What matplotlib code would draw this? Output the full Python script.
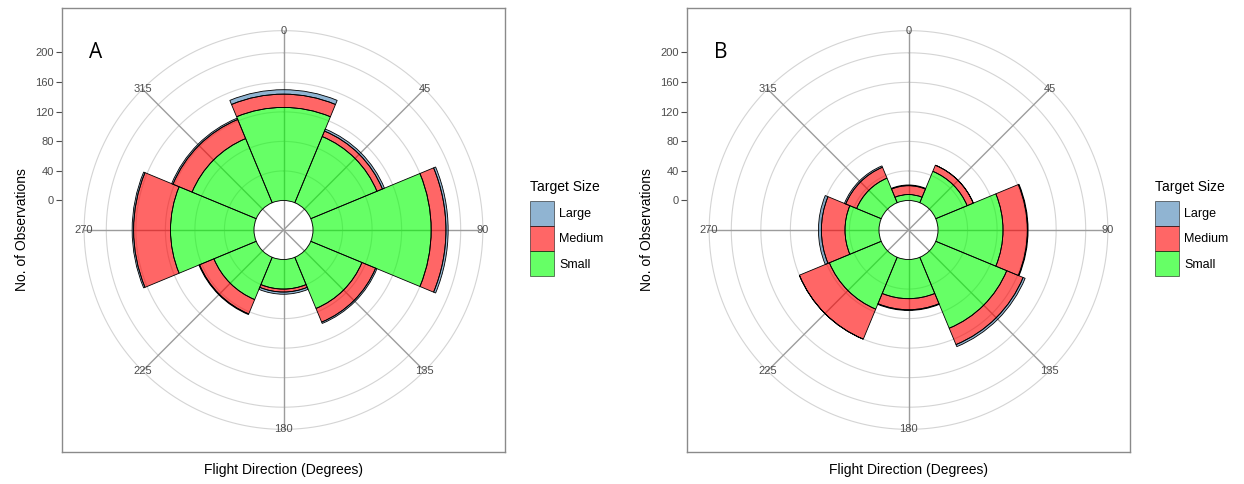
import matplotlib
matplotlib.use("Agg")
import matplotlib.pyplot as plt
import numpy as np
from matplotlib.patches import Patch

W, H = 1244, 484

# ---------------- data ----------------
directions = [0, 45, 90, 135, 180, 225, 270, 315]
direction_labels = ["0", "45", "90", "135", "180", "225", "270", "315"]
size_classes = ["Large", "Medium", "Small"]

a_small = [126, 97, 160, 75, 40, 62, 113, 94]
a_medium = [18, 8, 20, 20, 4, 21, 50, 28]
a_large = [6, 3, 3, 2, 3, 1, 2, 2]

b_small = [8, 46, 88, 104, 53, 76, 46, 36]
b_medium = [12, 9, 33, 24, 15, 44, 32, 16]
b_large = [1, 0, 1, 3, 1, 0, 4, 2]

y_ticks = [0, 40, 80, 120, 160, 200]
r_low, r_high = -40, 200
panel_letters = ["A", "B"]

colors = {"Small": "#00ff00", "Medium": "#ff0000", "Large": "#4682b4"}
ALPHA = 0.6
FONT = "Liberation Sans"

# derived polar extents (ggplot-like: data range -> 0..0.4, outer ring 0.45, box 0.5)
span = r_high - r_low
r_outer = r_low + span * 0.45 / 0.4
r_box = r_low + span * 0.5 / 0.4

fig = plt.figure(figsize=(W / 100, H / 100), dpi=100)


def rect(x0, y0, w, h):
    return [x0 / W, 1 - (y0 + h) / H, w / W, h / H]


def draw_panel(x0, small, medium, large, letter):
    bw, bh = 443, 444
    y0 = 8
    box = fig.add_axes(rect(x0, y0, bw, bh))
    box.set_xlim(0, 1)
    box.set_ylim(r_low - (r_box - r_low), r_box)
    box.set_xticks([])
    box.set_yticks(y_ticks)
    box.set_yticklabels([str(t) for t in y_ticks], fontsize=8, color="#4d4d4d",
                        family=FONT)
    box.tick_params(axis="y", length=4, width=0.8, color="#4d4d4d", pad=2)
    for s in box.spines.values():
        s.set_color("#8a8a8a")
        s.set_linewidth(1.0)
    box.set_ylabel("No. of Observations", fontsize=10, family=FONT, labelpad=4)
    box.set_xlabel("Flight Direction (Degrees)", fontsize=10, family=FONT, labelpad=8)
    box.text(0.076, 0.9, letter, transform=box.transAxes, fontsize=15,
             family="Open Sans", ha="center", va="center")

    ax = fig.add_axes(rect(x0, y0, bw, bh), projection="polar")
    ax.set_theta_zero_location("N")
    ax.set_theta_direction(-1)
    ax.set_ylim(r_low, r_box)
    ax.patch.set_visible(False)
    ax.spines["polar"].set_visible(False)
    ax.grid(False)
    ax.set_xticks([])
    ax.set_yticks([])

    tfine = np.linspace(0, 2 * np.pi, 400)
    for r in y_ticks + [r_outer]:
        ax.plot(tfine, np.full_like(tfine, r), color="#d4d4d4", lw=0.8, zorder=1)
    for d in directions:
        t = np.deg2rad(d)
        ax.plot([t, t], [r_low, r_outer], color="#9c9c9c", lw=1.0, zorder=1)

    theta = np.deg2rad(directions)
    width = np.deg2rad(45)
    small = np.array(small, float)
    medium = np.array(medium, float)
    large = np.array(large, float)
    kw = dict(width=width, edgecolor="none", zorder=3, align="center")
    ax.bar(theta, small, bottom=0, color=colors["Small"], alpha=ALPHA, **kw)
    ax.bar(theta, medium, bottom=small, color=colors["Medium"], alpha=ALPHA, **kw)
    ax.bar(theta, large, bottom=small + medium, color=colors["Large"], alpha=ALPHA, **kw)
    # outlines fully opaque
    for vals, bottoms in [(small, 0 * small), (medium, small), (large, small + medium)]:
        ax.bar(theta, vals, bottom=bottoms, width=width, fill=False,
               edgecolor="black", linewidth=0.6, zorder=4)

    for d, lab in zip(directions, direction_labels):
        ax.text(np.deg2rad(d), r_outer, lab, fontsize=8, color="#4d4d4d",
                family=FONT, ha="center", va="center", zorder=5)

    # legend
    lx = x0 + bw + 25
    fig.text(lx / W, 1 - 187 / H, "Target Size", fontsize=10, family=FONT,
             ha="left", va="center")
    handles = [Patch(facecolor=colors[c], alpha=ALPHA, edgecolor="black", linewidth=0.6)
               for c in size_classes]
    leg = fig.legend(handles, size_classes, loc="upper left",
                     bbox_to_anchor=((lx - 1) / W, 1 - 200 / H),
                     frameon=False, fontsize=9,
                     labelspacing=0.0, handlelength=1.9,
                     handleheight=2.7, handletextpad=0.4, borderaxespad=0,
                     borderpad=0.1, prop={"family": FONT, "size": 9})
    for h in leg.legend_handles:
        h.set_alpha(ALPHA)


draw_panel(62, a_small, a_medium, a_large, panel_letters[0])
draw_panel(687, b_small, b_medium, b_large, panel_letters[1])

fig.savefig("out.png", dpi=100)
